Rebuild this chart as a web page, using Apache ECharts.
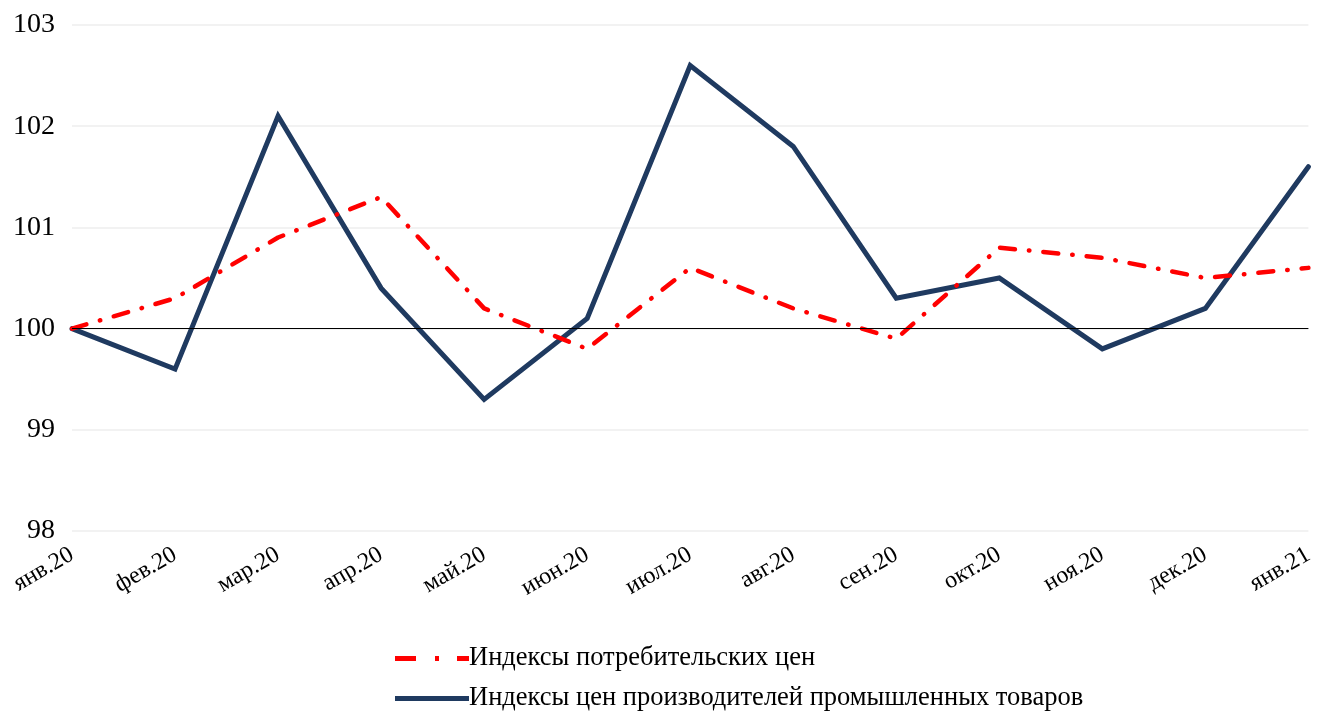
<!DOCTYPE html>
<html><head><meta charset="utf-8">
<script src="https://cdn.jsdelivr.net/npm/echarts@6/dist/echarts.min.js"></script>
<style>html,body{margin:0;padding:0;background:#fff;overflow:hidden}#c{width:100vw;height:100vh}</style>
</head><body><div id="c"></div>
<script>
const categories = ['янв.20','фев.20','мар.20','апр.20','май.20','июн.20','июл.20','авг.20','сен.20','окт.20','ноя.20','дек.20','янв.21'];
const cpi = [100, 100.3, 100.9, 101.3, 100.2, 99.8, 100.6, 100.2, 99.9, 100.8, 100.7, 100.5, 100.6];
const ppi = [100, 99.6, 102.1, 100.4, 99.3, 100.1, 102.6, 101.8, 100.3, 100.5, 99.8, 100.2, 101.6];
const cpiName = 'Индексы потребительских цен';
const ppiName = 'Индексы цен производителей промышленных товаров';
const font = '"Liberation Serif", "Times New Roman", serif';
const chart = echarts.init(document.getElementById('c'));
chart.setOption({
  animation: false,
  grid: {left: 72, right: 0, top: 25, bottom: 189, containLabel: false},
  xAxis: {
    type: 'category', data: categories, boundaryGap: false,
    axisLine: {show: false}, axisTick: {show: false},
    axisLabel: {rotate: 30, fontFamily: font, fontSize: 24, color: '#000', margin: 22, interval: 0}
  },
  yAxis: {
    type: 'value', min: 98, max: 103, interval: 1,
    axisLine: {show: false}, axisTick: {show: false},
    axisLabel: {fontFamily: font, fontSize: 28, color: '#000', margin: 17},
    splitLine: {lineStyle: {color: '#eeeeee', width: 1.5}}
  },
  legend: {
    orient: 'vertical', left: 390, top: 640, itemGap: 13,
    itemWidth: 74, itemHeight: 5,
    textStyle: {fontFamily: font, fontSize: 26.5, color: '#000', padding: [0,0,0,-5]},
    data: [
      {name: cpiName, icon: 'path://M0,0h21v5h-21zM40,0h4v5h-4zM62,0h12v5h-12z'},
      {name: ppiName, icon: 'path://M0,0h74v5h-74z'}
    ]
  },
  series: [
    {
      name: ppiName, type: 'line', data: ppi, symbol: 'none', z: 3,
      lineStyle: {color: '#1f3a60', width: 5, cap: 'round', join: 'miter'},
      itemStyle: {color: '#1f3a60'},
      markLine: {
        silent: true, symbol: 'none', label: {show: false},
        lineStyle: {color: '#000', width: 1.2, type: 'solid'},
        data: [{yAxis: 100}]
      }
    },
    {
      name: cpiName, type: 'line', data: cpi, symbol: 'none', z: 4,
      lineStyle: {color: '#ff0000', width: 4.5, cap: 'round', type: [15, 14, 0.5, 14]},
      itemStyle: {color: '#ff0000'}
    }
  ]
});
</script></body></html>
